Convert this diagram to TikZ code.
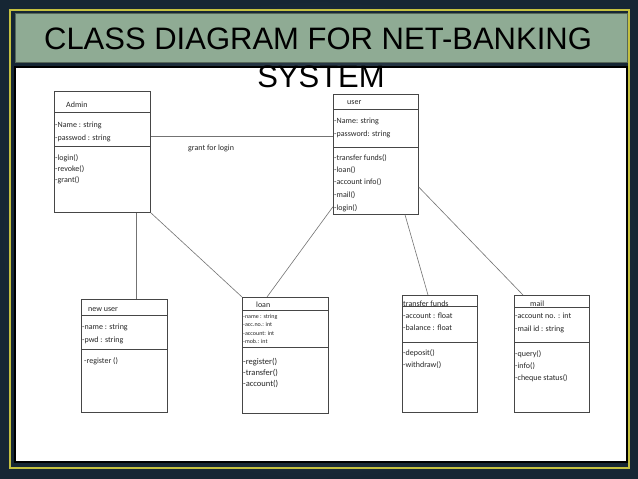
\documentclass[tikz,border=0pt]{standalone}
\usepackage{fontspec}
\setmainfont{Carlito}
\newfontfamily\slidefont{Liberation Sans}
\usetikzlibrary{calc}
\definecolor{slideDeep}{RGB}{22,38,52}
\definecolor{slideMist}{RGB}{84,99,114}
\definecolor{slideOlive}{RGB}{196,192,64}
\definecolor{slideSage}{RGB}{143,171,148}
\definecolor{umlInk}{RGB}{70,70,70}

\begin{document}
\begin{tikzpicture}[x=1pt,y=-1pt,
  classbox/.style={draw=umlInk,line width=0.7pt,fill=white,inner sep=0pt,anchor=north west},
  member/.style={anchor=base west,inner sep=0pt,text=black!85,font=\fontsize{8}{9}\selectfont},
  smallmember/.style={member,font=\fontsize{6}{7}\selectfont},
  titletext/.style={anchor=base,inner sep=0pt,font=\slidefont\fontsize{31}{31}\selectfont},
  link/.style={draw=black!55,line width=0.6pt}]
  \shade[inner color=slideMist,outer color=slideDeep] (0,0) rectangle (638,479);
  \draw[slideOlive,line width=1.4pt] (10,10) rectangle (629,468);
  \filldraw[fill=slideSage,draw=slideSage!60!black,line width=0.6pt] (15,13) rectangle (627,62);
  \filldraw[fill=white,draw=black,line width=1.2pt] (15,67) rectangle (627,462);
  \node[titletext] (title) at (318,49) {CLASS DIAGRAM FOR NET-BANKING};
  \node[titletext] (titleTail) at (321,87) {SYSTEM};

  \node[classbox,minimum width=96pt,minimum height=121pt] (admin) at (54,91) {};
  \draw[umlInk] ($(admin.north west)+(0,21)$) -- ($(admin.north east)+(0,21)$);
  \draw[umlInk] ($(admin.north west)+(0,55)$) -- ($(admin.north east)+(0,55)$);
  \node[member] (adminHead) at (66,107) {Admin};
  \node[member] (adminName) at (55,127) {-Name : string}; \node[member] (adminPwd) at (55,140) {-passwod : string};
  \node[member] (adminLogin) at (55,160) {-login()}; \node[member] (adminRevoke) at (55,171) {-revoke()};
  \node[member] (adminGrant) at (55,182) {-grant()};

  \node[classbox,minimum width=85pt,minimum height=120pt] (user) at (333,94) {};
  \draw[umlInk] ($(user.north west)+(0,15)$) -- ($(user.north east)+(0,15)$);
  \draw[umlInk] ($(user.north west)+(0,53)$) -- ($(user.north east)+(0,53)$);
  \node[member] (userHead) at (347,104) {user};
  \node[member] (userName) at (334,123) {-Name: string}; \node[member] (userPwd) at (334,136) {-password: string};
  \node[member] (userTransfer) at (334,160) {-transfer funds()}; \node[member] (userLoan) at (334,172) {-loan()};
  \node[member] (userInfo) at (334,184) {-account info()}; \node[member] (userMail) at (334,197) {-mail()};
  \node[member] (userLogin) at (334,210) {-login()};

  \node[classbox,minimum width=86pt,minimum height=113pt] (newuser) at (81,299) {};
  \draw[umlInk] ($(newuser.north west)+(0,16)$) -- ($(newuser.north east)+(0,16)$);
  \draw[umlInk] ($(newuser.north west)+(0,50)$) -- ($(newuser.north east)+(0,50)$);
  \node[member] (newuserHead) at (88,311) {new user};
  \node[member] (newuserName) at (82,329) {-name : string}; \node[member] (newuserPwd) at (82,342) {-pwd : string};
  \node[member] (newuserRegister) at (84,363) {-register ()};

  \node[classbox,minimum width=86pt,minimum height=116pt] (loan) at (242,297) {};
  \draw[umlInk] ($(loan.north west)+(0,13)$) -- ($(loan.north east)+(0,13)$);
  \draw[umlInk] ($(loan.north west)+(0,50)$) -- ($(loan.north east)+(0,50)$);
  \node[member] (loanHead) at (256,307) {loan};
  \node[smallmember] (loanName) at (243,318) {-name : string}; \node[smallmember] (loanAcc) at (243,326) {-acc.no.: int};
  \node[smallmember] (loanAccount) at (243,335) {-account: int}; \node[smallmember] (loanMob) at (243,343) {-mob.: int};
  \node[member,font=\fontsize{8.5}{10}\selectfont] (loanRegister) at (243,364) {-register()};
  \node[member,font=\fontsize{8.5}{10}\selectfont] (loanTransfer) at (243,375) {-transfer()};
  \node[member,font=\fontsize{8.5}{10}\selectfont] (loanAccountOp) at (243,386) {-account()};

  \node[classbox,minimum width=75pt,minimum height=117pt] (transfer) at (402,295) {};
  \draw[umlInk] ($(transfer.north west)+(0,11)$) -- ($(transfer.north east)+(0,11)$);
  \draw[umlInk] ($(transfer.north west)+(0,47)$) -- ($(transfer.north east)+(0,47)$);
  \node[member] (transferHead) at (403,306) {transfer funds};
  \node[member] (transferAccount) at (403,318) {-account : float}; \node[member] (transferBalance) at (403,330) {-balance : float};
  \node[member] (transferDeposit) at (403,355) {-deposit()}; \node[member] (transferWithdraw) at (403,367) {-withdraw()};

  \node[classbox,minimum width=75pt,minimum height=117pt] (mail) at (514,295) {};
  \draw[umlInk] ($(mail.north west)+(0,12)$) -- ($(mail.north east)+(0,12)$);
  \draw[umlInk] ($(mail.north west)+(0,47)$) -- ($(mail.north east)+(0,47)$);
  \node[member] (mailHead) at (530,306) {mail};
  \node[member] (mailAccount) at (515,318) {-account no. : int}; \node[member] (mailId) at (515,331) {-mail id : string};
  \node[member] (mailQuery) at (515,356) {-query()}; \node[member] (mailInfo) at (515,368) {-info()};
  \node[member] (mailCheque) at (515,380) {-cheque status()};

  \draw[link] ($(admin.north east)+(0,45)$) -- ($(user.north west)+(0,42)$);
  \node[member] (grantLabel) at (188,150) {grant for login};
  \draw[link] ($(admin.south west)+(82,0)$) -- ($(newuser.north west)+(55,0)$);
  \draw[link] (admin.south east) -- (loan.north west);
  \draw[link] ($(loan.north west)+(25,0)$) -- ($(user.south west)+(0,-8)$);
  \draw[link] ($(user.south west)+(72,0)$) -- ($(transfer.north west)+(26,0)$);
  \draw[link] ($(user.north east)+(0,93)$) -- ($(mail.north west)+(9,0)$);
\end{tikzpicture}
\end{document}
